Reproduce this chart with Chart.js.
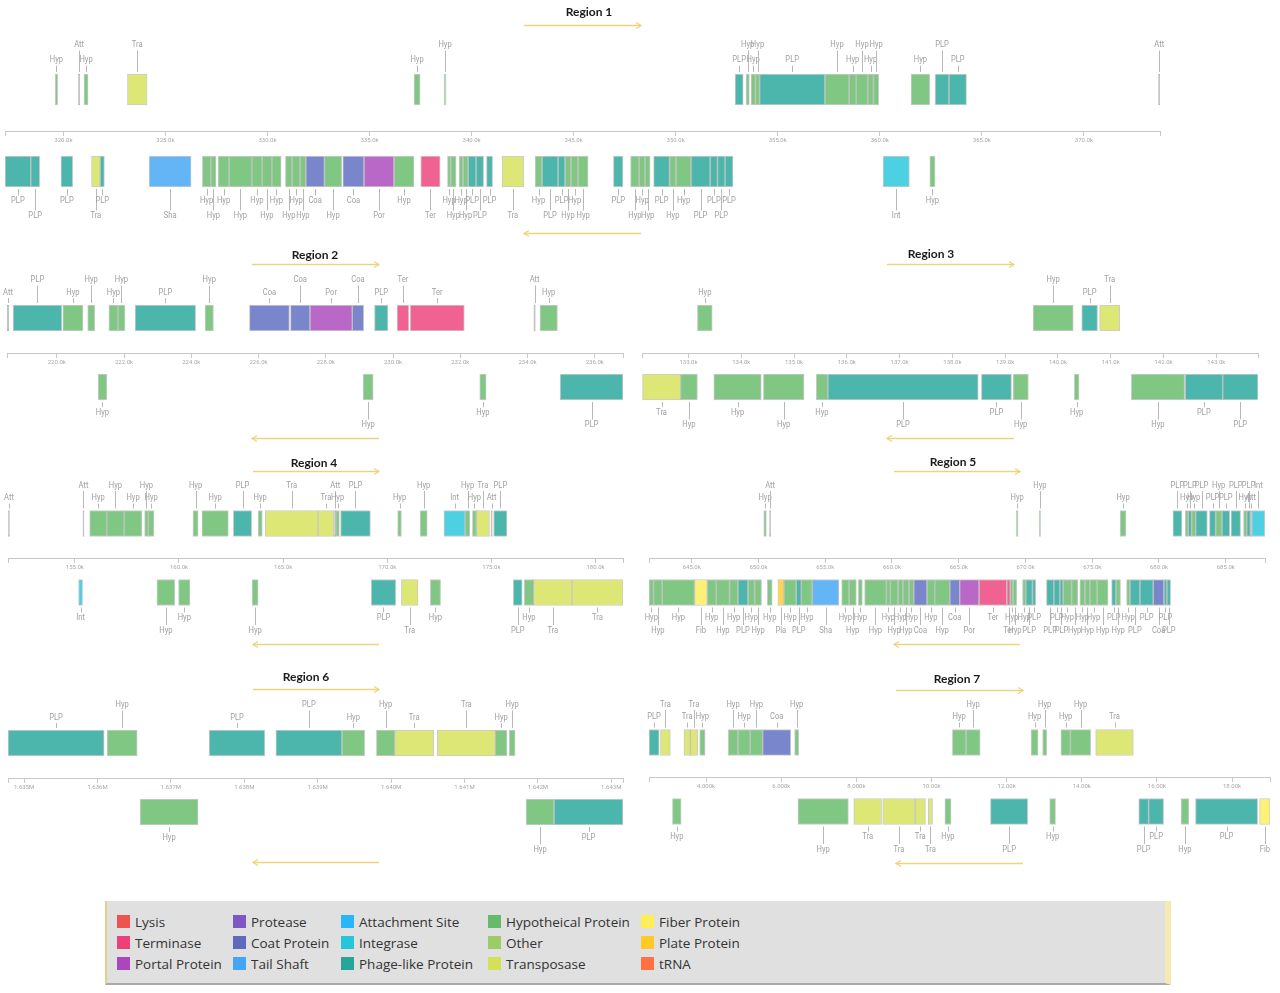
<!DOCTYPE html>
<html><head><meta charset="utf-8">
<script src="https://cdn.jsdelivr.net/npm/chart.js@4.4.1/dist/chart.umd.min.js"></script>
<style>
html,body{margin:0;padding:0;background:#fff}
body{width:1280px;height:993px;position:relative;overflow:hidden;font-family:'Open Sans',sans-serif}
canvas{position:absolute}
.title{position:absolute;font:bold 12px Lato,'Open Sans',sans-serif;color:#1a1a1a;transform:translate(-50%,-50%);white-space:nowrap}
#legend{position:absolute;left:105px;top:901px;width:1058px;height:82px;background:#e0e0e0;border-left:2px solid #e2cf8c;border-right:6px solid #f6e9b2;border-bottom:2px solid #a8a8a8}
.li{position:absolute;font-size:13.5px;color:#333;white-space:nowrap;line-height:16px}
.li span{position:absolute;left:-18px;top:1px;width:13px;height:13px}
</style></head><body>
<svg id="arrows" width="1280" height="993" style="position:absolute;left:0;top:0"></svg>
<div id="legend"></div>
<script>
// ---------- data (kbp) : [start, end, type] ----------
const regionNames = ['Region 1','Region 2','Region 3','Region 4','Region 5','Region 6','Region 7'];
const regionMin = [317.14, 218.52, 132.12, 151.79, 641.80, 1634.78, 2.48];
const regionMax = [373.73, 236.84, 143.79, 181.32, 687.94, 1643.16, 19.01];
const tickStep  = [5, 2, 1, 5, 5, 1, 2];
const tickUnit  = ['k','k','k','k','k','M','k'];

const r1F = [[319.60,319.72,'Hyp'],[320.74,320.80,'Att'],[321.01,321.21,'Hyp'],[323.14,324.10,'Tra'],[337.18,337.48,'Hyp'],[338.65,338.75,'Hyp'],[352.91,353.31,'PLP'],[353.45,353.61,'Hyp'],[353.69,353.91,'Hyp'],[353.91,354.11,'Hyp'],[354.11,357.31,'PLP'],[357.31,358.50,'Hyp'],[358.50,358.85,'Hyp'],[358.85,359.41,'Hyp'],[359.41,359.69,'Hyp'],[359.69,359.95,'Hyp'],[361.53,362.45,'Hyp'],[362.71,363.39,'PLP'],[363.39,364.25,'PLP'],[373.66,373.72,'Att']];
const r1R = [[317.14,318.40,'PLP'],[318.40,318.84,'PLP'],[319.88,320.46,'PLP'],[321.38,321.80,'Tra'],[321.80,322.01,'PLP'],[324.20,326.26,'Sha'],[326.81,327.22,'Hyp'],[327.22,327.48,'Hyp'],[327.58,328.12,'Hyp'],[328.12,329.23,'Hyp'],[329.23,329.74,'Hyp'],[329.74,330.21,'Hyp'],[330.21,330.67,'Hyp'],[330.88,331.21,'Hyp'],[331.21,331.60,'Hyp'],[331.60,331.88,'Hyp'],[331.88,332.79,'Coa'],[332.79,333.64,'Hyp'],[333.69,334.73,'Coa'],[334.73,336.20,'Por'],[336.20,337.18,'Hyp'],[337.51,338.46,'Ter'],[338.82,338.97,'Hyp'],[338.97,339.24,'Hyp'],[339.39,339.58,'Hyp'],[339.58,339.83,'Hyp'],[339.83,340.22,'PLP'],[340.22,340.59,'PLP'],[340.73,341.03,'PLP'],[341.49,342.55,'Tra'],[343.11,343.45,'Hyp'],[343.45,344.24,'PLP'],[344.24,344.58,'PLP'],[344.58,344.87,'Hyp'],[344.87,345.22,'Hyp'],[345.22,345.71,'Hyp'],[346.95,347.42,'PLP'],[347.79,348.21,'Hyp'],[348.21,348.50,'Hyp'],[348.50,348.75,'Hyp'],[348.92,349.70,'PLP'],[349.70,350.02,'Hyp'],[350.02,350.75,'Hyp'],[350.75,351.69,'PLP'],[351.69,352.05,'PLP'],[352.05,352.42,'PLP'],[352.42,352.81,'PLP'],[360.16,361.45,'Int'],[362.45,362.71,'Hyp']];

const r2F = [[218.53,218.57,'Att'],[218.70,220.15,'PLP'],[220.18,220.78,'Hyp'],[220.92,221.13,'Hyp'],[221.55,221.82,'Hyp'],[221.82,222.03,'Hyp'],[222.33,224.13,'PLP'],[224.41,224.66,'Hyp'],[225.73,226.92,'Coa'],[226.95,227.53,'Coa'],[227.53,228.79,'Por'],[228.79,229.13,'Coa'],[229.45,229.85,'PLP'],[230.12,230.47,'Ter'],[230.51,232.12,'Ter'],[234.19,234.23,'Att'],[234.37,234.89,'Hyp']];
const r2R = [[221.23,221.49,'Hyp'],[229.11,229.41,'Hyp'],[232.58,232.77,'Hyp'],[234.97,236.84,'PLP']];

const r3F = [[133.17,133.45,'Hyp'],[139.53,140.29,'Hyp'],[140.45,140.75,'PLP'],[140.79,141.17,'Tra']];
const r3R = [[132.13,132.85,'Tra'],[132.85,133.17,'Hyp'],[133.48,134.38,'Hyp'],[134.42,135.19,'Hyp'],[135.42,135.64,'Hyp'],[135.64,138.49,'PLP'],[138.55,139.12,'PLP'],[139.15,139.44,'Hyp'],[140.31,140.40,'Hyp'],[141.39,142.40,'Hyp'],[142.41,143.12,'PLP'],[143.12,143.79,'PLP']];

const r4F = [[151.81,151.86,'Att'],[155.39,155.44,'Att'],[155.71,156.53,'Hyp'],[156.53,157.37,'Hyp'],[157.37,158.22,'Hyp'],[158.35,158.53,'Hyp'],[158.53,158.80,'Hyp'],[160.67,160.92,'Hyp'],[161.10,162.37,'Hyp'],[162.61,163.49,'PLP'],[163.80,164.00,'Hyp'],[164.14,166.68,'Tra'],[166.68,167.43,'Tra'],[167.47,167.53,'Att'],[167.53,167.70,'Hyp'],[167.76,169.19,'PLP'],[170.50,170.68,'Hyp'],[171.58,171.92,'Hyp'],[172.72,173.74,'Int'],[173.74,173.97,'Hyp'],[174.09,174.28,'Hyp'],[174.28,174.91,'Tra'],[174.98,175.04,'Att'],[175.11,175.75,'PLP']];
const r4R = [[155.18,155.37,'Int'],[158.94,159.80,'Hyp'],[159.98,160.53,'Hyp'],[163.51,163.80,'Hyp'],[169.23,170.41,'PLP'],[170.68,171.48,'Tra'],[172.07,172.56,'Hyp'],[176.05,176.48,'PLP'],[176.58,177.03,'Hyp'],[177.03,178.87,'Tra'],[178.87,181.32,'Tra']];

const r5F = [[650.40,650.59,'Hyp'],[650.83,650.91,'Att'],[669.30,669.45,'Hyp'],[671.03,671.13,'Hyp'],[677.09,677.53,'Hyp'],[681.04,681.72,'PLP'],[681.97,682.19,'Hyp'],[682.19,682.44,'PLP'],[682.44,682.75,'Hyp'],[682.75,683.62,'PLP'],[683.78,684.24,'PLP'],[684.24,684.71,'Hyp'],[684.71,685.30,'PLP'],[685.39,686.11,'PLP'],[686.33,686.57,'Hyp'],[686.57,686.85,'PLP'],[686.85,686.93,'Att'],[686.95,687.93,'Int']];
const r5R = [[641.80,642.14,'Hyp'],[642.14,642.79,'Hyp'],[642.79,645.21,'Hyp'],[645.21,646.16,'Fib'],[646.16,646.84,'Hyp'],[646.84,647.83,'Hyp'],[647.83,648.46,'Hyp'],[648.46,649.21,'PLP'],[649.21,649.71,'Hyp'],[649.71,650.23,'Hyp'],[650.66,651.03,'Hyp'],[651.45,651.90,'Pla'],[651.90,652.83,'Hyp'],[652.83,653.21,'PLP'],[653.21,654.03,'Hyp'],[654.03,656.03,'Sha'],[656.23,656.78,'Hyp'],[656.78,657.33,'Hyp'],[657.48,657.78,'Hyp'],[657.95,659.58,'Hyp'],[659.58,659.88,'Hyp'],[659.88,660.45,'Hyp'],[660.45,660.82,'Hyp'],[660.82,661.27,'Hyp'],[661.27,661.63,'Hyp'],[661.63,662.62,'Coa'],[662.62,663.20,'Hyp'],[663.20,664.33,'Hyp'],[664.33,665.07,'Coa'],[665.07,666.52,'Por'],[666.52,668.60,'Ter'],[668.60,668.86,'Ter'],[668.86,669.07,'Hyp'],[669.07,669.35,'Hyp'],[669.78,670.02,'Hyp'],[670.02,670.52,'PLP'],[670.52,670.77,'PLP'],[671.57,672.12,'PLP'],[672.12,672.57,'PLP'],[672.57,672.82,'PLP'],[672.82,673.45,'Hyp'],[673.45,673.92,'Hyp'],[674.07,674.45,'Hyp'],[674.45,674.82,'Hyp'],[674.82,675.37,'Hyp'],[675.37,676.19,'Hyp'],[676.45,676.77,'PLP'],[676.77,677.12,'Hyp'],[677.57,677.82,'Hyp'],[677.82,678.57,'PLP'],[678.57,679.57,'PLP'],[679.57,680.37,'Coa'],[680.37,680.59,'PLP'],[680.59,680.87,'PLP']];

const r6F = [[1634.78,1636.09,'PLP'],[1636.13,1636.54,'Hyp'],[1637.52,1638.28,'PLP'],[1638.43,1639.33,'PLP'],[1639.33,1639.64,'Hyp'],[1639.80,1640.05,'Hyp'],[1640.05,1640.58,'Tra'],[1640.63,1641.42,'Tra'],[1641.42,1641.58,'Hyp'],[1641.61,1641.69,'Hyp']];
const r6R = [[1636.58,1637.37,'Hyp'],[1641.84,1642.22,'Hyp'],[1642.22,1643.16,'PLP']];

const r7F = [[2.48,2.75,'PLP'],[2.785,3.048,'Tra'],[3.412,3.577,'Tra'],[3.577,3.777,'Tra'],[3.830,3.973,'Hyp'],[4.590,4.846,'Hyp'],[4.846,5.176,'Hyp'],[5.176,5.505,'Hyp'],[5.505,6.255,'Coa'],[6.356,6.465,'Hyp'],[10.556,10.920,'Hyp'],[10.920,11.295,'Hyp'],[12.649,12.838,'Hyp'],[12.957,13.069,'Hyp'],[13.444,13.697,'Hyp'],[13.697,14.237,'Hyp'],[14.370,15.372,'Tra']];
const r7R = [[3.104,3.335,'Hyp'],[6.444,7.787,'Hyp'],[7.931,8.670,'Tra'],[8.702,9.564,'Tra'],[9.564,9.838,'Tra'],[9.915,10.027,'Tra'],[10.356,10.521,'Hyp'],[11.569,12.561,'PLP'],[13.146,13.301,'Hyp'],[15.516,15.779,'PLP'],[15.779,16.178,'PLP'],[16.641,16.851,'Hyp'],[17.027,18.681,'PLP'],[18.734,19.011,'Fib']];

const forwardGenes = [r1F, r2F, r3F, r4F, r5F, r6F, r7F];
const reverseGenes = [r1R, r2R, r3R, r4R, r5R, r6R, r7R];

const legendNames  = ['Lysis','Terminase','Portal Protein','Protease','Coat Protein','Tail Shaft','Attachment Site','Integrase','Phage-like Protein','Hypotheical Protein','Other','Transposase','Fiber Protein','Plate Protein','tRNA'];
const legendColors = ['#EF5350','#EC407A','#AB47BC','#7E57C2','#5C6BC0','#42A5F5','#29B6F6','#26C6DA','#26A69A','#66BB6A','#9CCC65','#D4E157','#FFEE58','#FFCA28','#FF7043'];

// ---------- styles / layout ----------
const typeColors = {Hyp:'#81C784',PLP:'#4DB6AC',Tra:'#DCE775',Coa:'#7986CB',Por:'#BA68C8',Ter:'#F06292',Sha:'#64B5F6',Int:'#4DD0E1',Fib:'#FFF176',Pla:'#FFD54F',Att:'#b3b3b3'};
const layout = [
 {L:5,  R:1160, T:47.5, H:164, bar:31, g1:14,   g2:29, tx:589, ty:11,  ax:[524,641], ay:[25,233]},
 {L:7,  R:623,  T:282.5,H:138, bar:26, g1:12.5, g2:25, tx:315, ty:254, ax:[252,379], ay:[264,438]},
 {L:642,R:1258, T:282.5,H:138, bar:26, g1:12.5, g2:25, tx:931, ty:253, ax:[887,1014],ay:[264,438]},
 {L:8,  R:623,  T:489,  H:138, bar:26, g1:12.5, g2:25, tx:314, ty:462, ax:[253,379], ay:[471,644]},
 {L:649,R:1265, T:489,  H:138, bar:26, g1:12.5, g2:25, tx:953, ty:461, ax:[894,1020],ay:[471,644]},
 {L:8,  R:623,  T:707.5,H:138, bar:26, g1:12.5, g2:25, tx:306, ty:676, ax:[253,379], ay:[689,862]},
 {L:649,R:1270, T:708,  H:138, bar:26, g1:12.5, g2:25, tx:957, ty:678, ax:[896,1023],ay:[690,863]}
];
const PAD = {l:14, r:14, t:42, b:42};

const geneLabels = {
  id:'geneLabels',
  afterDatasetsDraw(chart, args, opts){
    const ctx = chart.ctx;
    ctx.save();
    chart.data.datasets.forEach((ds, di) => {
      const meta = chart.getDatasetMeta(di);
      const fwd = ds.strand === 'F';
      meta.data.forEach((el, i) => {
        const p = el.getProps(['x','base','y','height'], true);
        const cx = (p.x + p.base) / 2;
        const tier = i % 2 === 0 ? opts.g1 : opts.g2;
        const edge = fwd ? p.y - p.height/2 : p.y + p.height/2;
        const ty = fwd ? edge - tier : edge + tier;
        const a = fwd ? edge - 2 : edge + 2;
        const b = fwd ? ty + 5.5 : ty - 5.5;
        ctx.strokeStyle = '#b8b8b8';
        ctx.lineWidth = 1;
        ctx.beginPath();
        ctx.moveTo(Math.round(cx)+0.5, a);
        ctx.lineTo(Math.round(cx)+0.5, b);
        ctx.stroke();
        ctx.save();
        ctx.translate(cx, ty);
        ctx.scale(0.8, 1);
        ctx.fillStyle = '#a0a0a0';
        ctx.font = '9.5px Roboto, sans-serif';
        ctx.textAlign = 'center';
        ctx.textBaseline = 'middle';
        ctx.fillText(ds.genes[i][2], 0, 0);
        ctx.restore();
      });
    });
    ctx.restore();
  }
};

function toPoints(genes, strand){
  return genes.map(g => ({x:[g[0], g[1]], y:strand}));
}

function makeDataset(genes, strand, lay){
  return {
    strand, genes,
    data: toPoints(genes, strand),
    backgroundColor: c => typeColors[genes[c.dataIndex][2]],
    borderColor: c => genes[c.dataIndex][2] === 'Att' ? '#b3b3b3' : 'rgba(140,140,140,0.45)',
    borderWidth: 1,
    borderSkipped: false,
    barThickness: lay.bar,
    grouped: false
  };
}

const svg = document.getElementById('arrows');
let svgHtml = '';
const arrowColor = '#efd27c';

regionNames.forEach((name, k) => {
  const lay = layout[k];
  const cv = document.createElement('canvas');
  const w = lay.R - lay.L + PAD.l + PAD.r;
  const h = lay.H + PAD.t + PAD.b;
  cv.width = w; cv.height = h;
  cv.style.left = (lay.L - PAD.l) + 'px';
  cv.style.top = Math.round(lay.T - PAD.t) + 'px';
  cv.style.width = w + 'px'; cv.style.height = h + 'px';
  document.body.appendChild(cv);
  const step = tickStep[k], unit = tickUnit[k];
  new Chart(cv, {
    type:'bar',
    data:{
      labels:['F','R'],
      datasets:[makeDataset(forwardGenes[k],'F',lay), makeDataset(reverseGenes[k],'R',lay)]
    },
    options:{
      indexAxis:'y',
      responsive:false,
      animation:false,
      devicePixelRatio:1,
      events:[],
      layout:{padding:{left:PAD.l, right:PAD.r, top:PAD.t - (lay.T - Math.round(lay.T)), bottom:PAD.b + (lay.T - Math.round(lay.T))}},
      plugins:{legend:{display:false}, tooltip:{enabled:false}, geneLabels:{g1:lay.g1, g2:lay.g2}},
      scales:{
        x:{
          type:'linear', position:'center',
          min:regionMin[k], max:regionMax[k],
          afterFit: s => { s.height = 0; },
          afterBuildTicks: s => {
            s.ticks.unshift({value:s.min});
            s.ticks.push({value:s.max});
          },
          grid:{display:true, drawOnChartArea:false, drawTicks:true, tickLength:4, color:'#c8c8c8'},
          border:{display:true, color:'#c8c8c8', width:1},
          ticks:{
            stepSize:step, includeBounds:false, autoSkip:false, maxRotation:0, padding:2,
            color:'#a8a8a8', font:{family:'Roboto', size:6},
            callback: v => {
              const q = v / step;
              if (Math.abs(q - Math.round(q)) > 1e-6) return '';
              return unit === 'M' ? (v/1000).toPrecision(4) + 'M' : v.toPrecision(4) + 'k';
            }
          }
        },
        y:{type:'category', display:false, offset:true}
      }
    },
    plugins:[geneLabels]
  });

  const t = document.createElement('div');
  t.className = 'title';
  t.textContent = name;
  t.style.left = lay.tx + 'px'; t.style.top = lay.ty + 'px';
  document.body.appendChild(t);

  const [x1, x2] = lay.ax, [yf, yr] = lay.ay;
  svgHtml += `<line x1="${x1}" y1="${yf+0.5}" x2="${x2}" y2="${yf+0.5}" stroke="${arrowColor}" stroke-width="1.4"/>`;
  svgHtml += `<polyline points="${x2-5},${yf-2.5} ${x2},${yf+0.5} ${x2-5},${yf+3.5}" fill="none" stroke="${arrowColor}" stroke-width="1.2"/>`;
  svgHtml += `<line x1="${x1}" y1="${yr+0.5}" x2="${x2}" y2="${yr+0.5}" stroke="${arrowColor}" stroke-width="1.4"/>`;
  svgHtml += `<polyline points="${x1+5},${yr-2.5} ${x1},${yr+0.5} ${x1+5},${yr+3.5}" fill="none" stroke="${arrowColor}" stroke-width="1.2"/>`;
});
svg.innerHTML = svgHtml;

// legend
const legend = document.getElementById('legend');
const colX = [28, 144, 252, 399, 552];
const rowY = [13, 34, 55];
legendNames.forEach((n, i) => {
  const d = document.createElement('div');
  d.className = 'li';
  d.style.left = colX[Math.floor(i/3)] + 'px';
  d.style.top = rowY[i%3] + 'px';
  d.innerHTML = `<span style="background:${legendColors[i]}"></span>${n}`;
  legend.appendChild(d);
});
</script>
</body></html>
